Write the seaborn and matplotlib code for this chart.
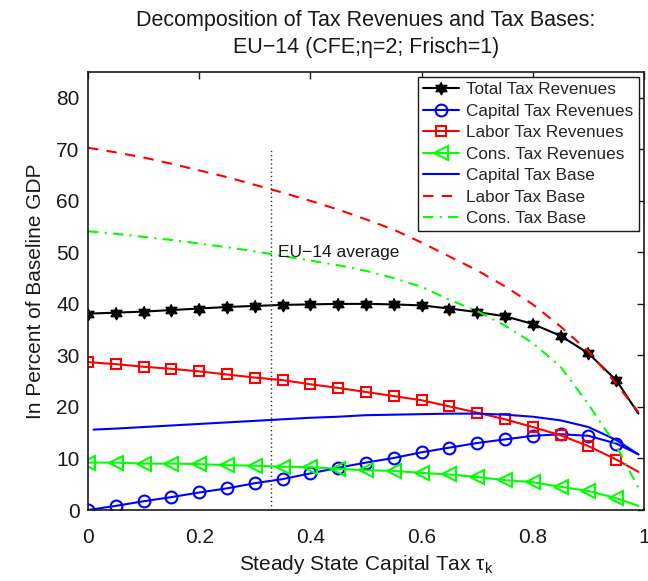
import numpy as np
import pandas as pd
import matplotlib
matplotlib.use("Agg")
import matplotlib.pyplot as plt
import seaborn as sns

# Steady-state capital tax grid (markers at 0, 0.05, ..., 0.95; curves end at 0.99)
tau_k = [0.00, 0.05, 0.10, 0.15, 0.20, 0.25, 0.30, 0.35, 0.40, 0.45, 0.50,
         0.55, 0.60, 0.65, 0.70, 0.75, 0.80, 0.85, 0.90, 0.95, 0.99]
tau_k_base = [0.01] + tau_k[1:]

# Tax revenues, in percent of baseline GDP
total_rev = [38.1, 38.3, 38.5, 38.8, 39.1, 39.4, 39.6, 39.8, 39.9, 40.0, 40.0,
             39.9, 39.7, 39.1, 38.4, 37.6, 36.1, 33.8, 30.4, 25.2, 18.7]
capital_rev = [0.0, 0.8, 1.7, 2.5, 3.4, 4.2, 5.2, 6.0, 7.1, 8.2, 9.2,
               10.1, 11.2, 12.1, 13.0, 13.7, 14.4, 14.7, 14.4, 12.9, 10.8]
labor_rev = [28.7, 28.3, 27.8, 27.4, 26.9, 26.3, 25.7, 25.2, 24.4, 23.7, 22.9,
             22.1, 21.3, 20.1, 18.9, 17.6, 16.1, 14.5, 12.4, 9.8, 7.4]
cons_rev = [9.2, 9.2, 9.0, 9.0, 8.9, 8.7, 8.6, 8.4, 8.3, 8.0, 7.7,
            7.6, 7.2, 6.9, 6.4, 5.8, 5.4, 4.5, 3.7, 2.3, 0.8]

# Tax bases, in percent of baseline GDP
capital_base = [15.6, 15.8, 16.1, 16.4, 16.7, 17.0, 17.3, 17.6, 17.9, 18.1, 18.4,
                18.5, 18.6, 18.7, 18.7, 18.5, 18.1, 17.4, 16.1, 13.6, 10.8]
labor_base = [70.3, 69.4, 68.4, 67.2, 65.9, 64.6, 63.1, 61.6, 60.0, 58.3, 56.4,
              54.4, 51.9, 49.2, 46.5, 43.4, 39.9, 35.6, 30.8, 24.5, 19.0]
cons_base = [54.1, 53.6, 53.0, 52.4, 51.7, 51.0, 50.2, 49.3, 48.4, 47.5, 46.4,
             45.0, 43.3, 40.8, 38.6, 35.8, 32.4, 27.8, 20.5, 12.5, 4.3]

eu14_tau = 0.33
eu14_top = 70.0

x_ticks = [0, 0.2, 0.4, 0.6, 0.8, 1]
x_tick_labels = ["0", "0.2", "0.4", "0.6", "0.8", "1"]
y_ticks = [0, 10, 20, 30, 40, 50, 60, 70, 80]

BLUE = "#0000ff"
RED = "#ff0000"
GREEN = "#00ff00"
BLACK = "#000000"

sns.set_theme(style="white")
plt.rcParams["font.family"] = ["Liberation Sans", "DejaVu Sans"]
plt.rcParams["axes.unicode_minus"] = True

fig = plt.figure(figsize=(6.48, 5.81), dpi=100)
ax = fig.add_axes([0.1358, 0.1222, 0.8580, 0.7539])

# six-pointed star marker (hexagram)
ang = np.deg2rad(np.arange(12) * 30 + 90)
rad = np.where(np.arange(12) % 2 == 0, 1.0, 0.58)
hexagram = list(zip(rad * np.cos(ang), rad * np.sin(ang)))

marks = slice(0, 20)
lw = 1.5

sns.lineplot(x=tau_k, y=total_rev, ax=ax, color=BLACK, lw=lw, marker=hexagram,
             markersize=9, markerfacecolor=BLACK, markeredgecolor=BLACK,
             markeredgewidth=1.0, markevery=marks, label="Total Tax Revenues")
sns.lineplot(x=tau_k, y=capital_rev, ax=ax, color=BLUE, lw=lw, marker="o",
             markersize=8.5, markerfacecolor="none", markeredgecolor=BLUE,
             markeredgewidth=1.5, markevery=marks, label="Capital Tax Revenues")
sns.lineplot(x=tau_k, y=labor_rev, ax=ax, color=RED, lw=lw, marker="s",
             markersize=7, markerfacecolor="none", markeredgecolor=RED,
             markeredgewidth=1.5, markevery=marks, label="Labor Tax Revenues")
sns.lineplot(x=tau_k, y=cons_rev, ax=ax, color=GREEN, lw=lw, marker="<",
             markersize=9.5, markerfacecolor="none", markeredgecolor=GREEN,
             markeredgewidth=1.5, markevery=marks, label="Cons. Tax Revenues")
sns.lineplot(x=tau_k_base, y=capital_base, ax=ax, color=BLUE, lw=lw,
             label="Capital Tax Base")
sns.lineplot(x=tau_k, y=labor_base, ax=ax, color=RED, lw=lw,
             label="Labor Tax Base")
sns.lineplot(x=tau_k, y=cons_base, ax=ax, color=GREEN, lw=lw,
             label="Cons. Tax Base")
ax.lines[5].set_dashes([5, 4])
ax.lines[6].set_dashes([5, 3, 1, 3])

# EU-14 average capital tax marker
ax.plot([eu14_tau, eu14_tau], [0, eu14_top], color="0.2", lw=1.0,
        dashes=[1, 2])
ax.text(eu14_tau + 0.011, 50, "EU\u221214 average", fontsize=12.5,
        ha="left", va="center", color="k")

ax.set_xlim(0, 1)
ax.set_ylim(0, 85)
ax.set_xticks(x_ticks)
ax.set_xticklabels(x_tick_labels)
ax.set_yticks(y_ticks)
ax.tick_params(direction="in", length=5, width=1, top=True, right=True,
               labelsize=15, colors="k")
ax.tick_params(axis="x", pad=13)
ax.tick_params(axis="y", pad=6)
for s in ax.spines.values():
    s.set_color("k")
    s.set_linewidth(1.2)

ax.set_xlabel("Steady State Capital Tax \u03c4$_\\mathregular{k}$",
              fontsize=15, color="k", labelpad=4)
ax.set_ylabel("In Percent of Baseline GDP", fontsize=15, color="k",
              labelpad=8)
ax.set_title("Decomposition of Tax Revenues and Tax Bases:\n"
             "EU\u221214 (CFE;\u03b7=2; Frisch=1)", fontsize=15.5, color="k",
             pad=14, linespacing=1.35)

leg = ax.legend(loc="upper right", fontsize=12.3, frameon=True, fancybox=False,
                edgecolor="k", framealpha=1, borderaxespad=0.3,
                handlelength=2.1, labelspacing=0.38, borderpad=0.3,
                handletextpad=0.45)
leg.get_frame().set_linewidth(1.0)

fig.savefig("out.png", dpi=100)
